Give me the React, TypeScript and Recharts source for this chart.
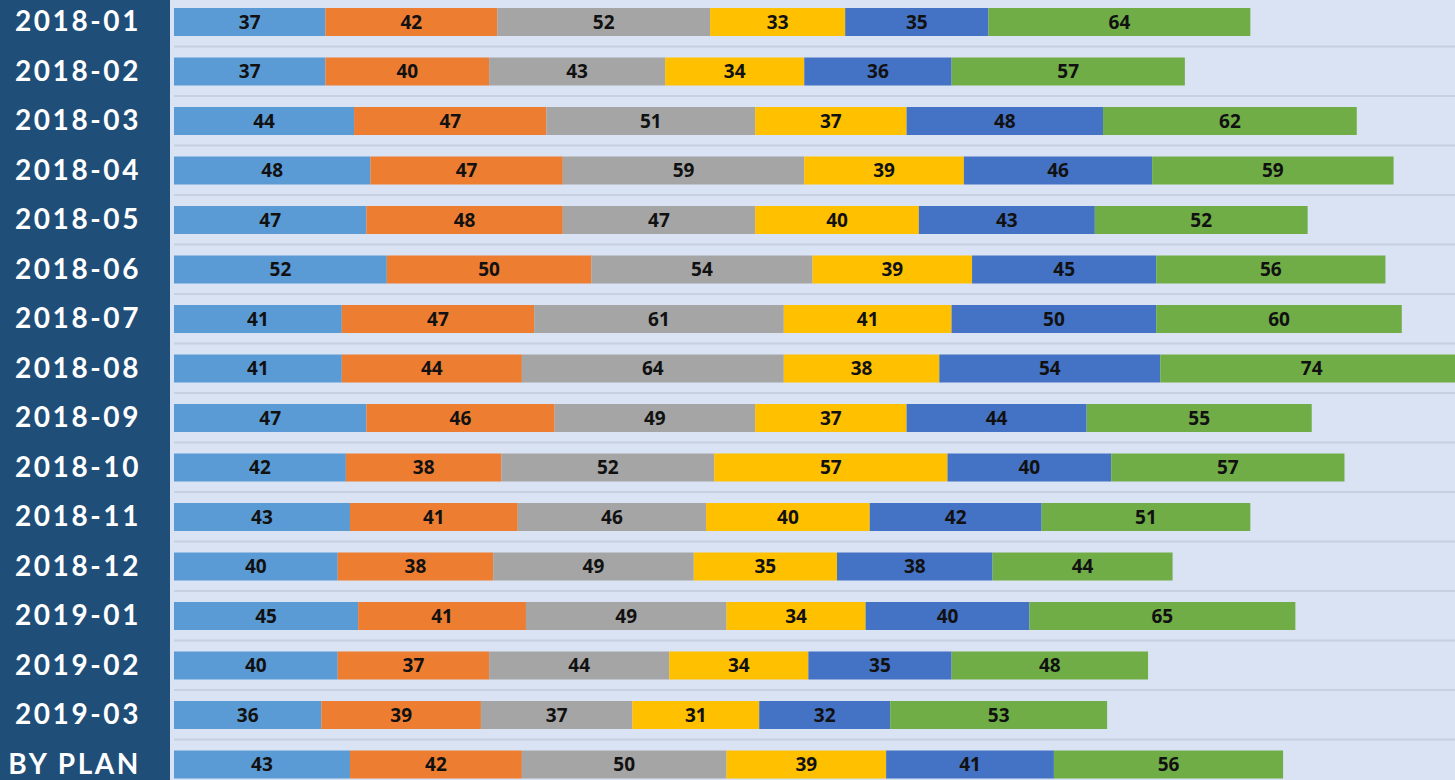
import React from "react";
import { BarChart, Bar, XAxis, YAxis, LabelList, ReferenceLine } from "recharts";

const categories = [
  "2018-01", "2018-02", "2018-03", "2018-04", "2018-05", "2018-06", "2018-07", "2018-08",
  "2018-09", "2018-10", "2018-11", "2018-12", "2019-01", "2019-02", "2019-03", "BY PLAN",
];
const seriesA = [37, 37, 44, 48, 47, 52, 41, 41, 47, 42, 43, 40, 45, 40, 36, 43];
const seriesB = [42, 40, 47, 47, 48, 50, 47, 44, 46, 38, 41, 38, 41, 37, 39, 42];
const seriesC = [52, 43, 51, 59, 47, 54, 61, 64, 49, 52, 46, 49, 49, 44, 37, 50];
const seriesD = [33, 34, 37, 39, 40, 39, 41, 38, 37, 57, 40, 35, 34, 34, 31, 39];
const seriesE = [35, 36, 48, 46, 43, 45, 50, 54, 44, 40, 42, 38, 40, 35, 32, 41];
const seriesF = [64, 57, 62, 59, 52, 56, 60, 74, 55, 57, 51, 44, 65, 48, 53, 56];

const seriesKeys = ["a", "b", "c", "d", "e", "f"];
const seriesColors = ["#5B9BD5", "#ED7D31", "#A5A5A5", "#FFC000", "#4472C4", "#70AD47"];
const seriesValues = [seriesA, seriesB, seriesC, seriesD, seriesE, seriesF];

const data = categories.map((cat, i) => {
  const row: Record<string, string | number> = { cat };
  seriesKeys.forEach((k, j) => {
    row[k] = seriesValues[j][i];
  });
  return row;
});

const TICK_FONT = "Lato, 'Open Sans', sans-serif";
const LABEL_FONT = "'Open Sans', Lato, sans-serif";

const CategoryTick = (props: any) => {
  const { y, payload } = props;
  return (
    <text
      x={141}
      y={y}
      dy={9.5}
      textAnchor="end"
      fill="#FFFFFF"
      fontSize={28}
      fontWeight={700}
      fontFamily={TICK_FONT}
      letterSpacing={2.6}
    >
      {payload.value}
    </text>
  );
};

export default function App() {
  return (
    <div
      style={{
        position: "absolute",
        top: -3,
        left: 0,
        width: 1455,
        height: 795,
        overflow: "hidden",
        background: "linear-gradient(to right, #1F4E79 0px, #1F4E79 170px, #DAE3F3 170px, #DAE3F3 100%)",
      }}
    >
      <BarChart
        width={1500}
        height={792}
        data={data}
        layout="vertical"
        margin={{ top: 0, right: 0, bottom: 0, left: 0 }}
      >
        <XAxis type="number" domain={[0, 324]} hide />
        <YAxis
          type="category"
          dataKey="cat"
          width={174}
          axisLine={false}
          tickLine={false}
          tick={<CategoryTick />}
          interval={0}
        />
        {categories.map((c) => (
          <ReferenceLine key={c} y={c} position="start" stroke="#C7D0E0" strokeWidth={2} />
        ))}
        {seriesKeys.map((k, j) => (
          <Bar key={k} dataKey={k} stackId="s" fill={seriesColors[j]} barSize={28} isAnimationActive={false}>
            <LabelList
              dataKey={k}
              position="center"
              fill="#111111"
              fontSize={19}
              fontWeight={700}
              fontFamily={LABEL_FONT}
            />
          </Bar>
        ))}
      </BarChart>
    </div>
  );
}
